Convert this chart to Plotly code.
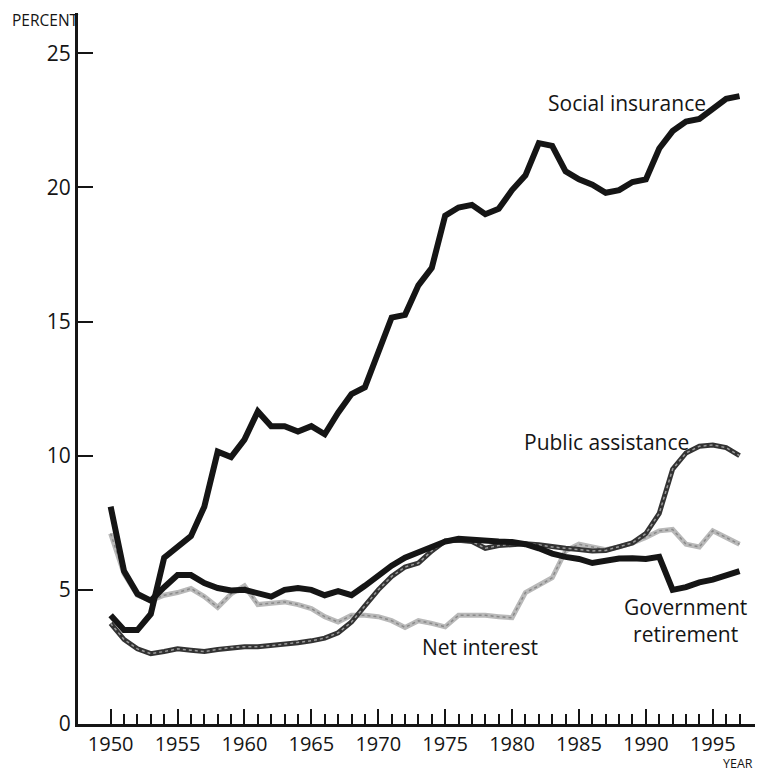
import plotly.graph_objects as go

# Fiscal years shown on the chart
years = list(range(1950, 1998))

# Percent of total outlays
social_insurance = [4.05, 3.5, 3.5, 4.1, 6.2, 6.6, 7.0, 8.1, 10.15, 9.95,
                    10.6, 11.65, 11.1, 11.1, 10.9, 11.1, 10.8, 11.6, 12.3, 12.55,
                    13.9, 15.15, 15.25, 16.35, 17.0, 18.95, 19.25, 19.35, 19.0, 19.2,
                    19.9, 20.45, 21.65, 21.55, 20.6, 20.3, 20.1, 19.8, 19.9, 20.2,
                    20.3, 21.45, 22.1, 22.45, 22.55, 22.95, 23.3, 23.4]

gov_retirement = [8.1, 5.7, 4.85, 4.6, 5.1, 5.55, 5.55, 5.25, 5.07, 4.98,
                  5.0, 4.9, 4.75, 5.0, 5.07, 5.0, 4.8, 4.95, 4.8, 5.15,
                  5.55, 5.9, 6.2, 6.4, 6.62, 6.8, 6.9, 6.85, 6.82, 6.8,
                  6.78, 6.7, 6.55, 6.35, 6.23, 6.15, 6.0, 6.08, 6.17, 6.18,
                  6.15, 6.23, 5.0, 5.1, 5.28, 5.38, 5.52, 5.7]

public_assistance = [3.75, 3.15, 2.8, 2.62, 2.7, 2.8, 2.75, 2.7, 2.78, 2.85,
                     2.88, 2.88, 2.92, 2.98, 3.03, 3.1, 3.2, 3.4, 3.8, 4.4,
                     5.0, 5.5, 5.85, 6.0, 6.45, 6.82, 6.85, 6.8, 6.55, 6.65,
                     6.7, 6.72, 6.68, 6.6, 6.55, 6.5, 6.45, 6.47, 6.6, 6.75,
                     7.1, 7.85, 9.5, 10.1, 10.35, 10.4, 10.3, 10.0]

net_interest = [7.1, 5.6, 4.8, 4.6, 4.8, 4.9, 5.05, 4.75, 4.35, 4.85,
                5.15, 4.45, 4.5, 4.55, 4.45, 4.3, 4.0, 3.8, 4.05, 4.05,
                4.0, 3.85, 3.6, 3.85, 3.75, 3.62, 4.05, 4.05, 4.05, 4.0,
                3.96, 4.9, 5.15, 5.45, 6.45, 6.7, 6.6, 6.5, 6.6, 6.75,
                6.95, 7.2, 7.25, 6.7, 6.6, 7.2, 6.95, 6.7]

major_ticks = list(range(1950, 1996, 5))
y_ticks = [0, 5, 10, 15, 20, 25]

FONT = "Open Sans"
INK = "#151515"


def add_line(fig, values, color, width, name):
    fig.add_trace(go.Scatter(x=years, y=values, mode="lines", name=name,
                             line=dict(color=color, width=width),
                             hoverinfo="skip"))


def add_texture(fig, values, color):
    # speckled look of the screened lines in the print
    fig.add_trace(go.Scatter(x=years, y=values, mode="lines", showlegend=False,
                             line=dict(color=color, width=1.5, dash="dot"),
                             hoverinfo="skip"))


def build_figure():
    fig = go.Figure()

    add_line(fig, net_interest, "#b9b9b9", 5, "Net interest")
    add_texture(fig, net_interest, "#8a8a8a")
    add_line(fig, public_assistance, "#333333", 5, "Public assistance")
    add_texture(fig, public_assistance, "#9a9a9a")
    add_line(fig, gov_retirement, INK, 6, "Government retirement")
    add_line(fig, social_insurance, INK, 6, "Social insurance")

    labels = [
        ("Social insurance", 1982.54, 23.15, "left"),
        ("Public assistance", 1980.72, 10.52, "left"),
        ("Net interest", 1973.12, 2.88, "left"),
        ("Government<br>retirement", 1992.96, 3.84, "center"),
    ]
    for text, x, y, anchor in labels:
        fig.add_annotation(x=x, y=y, text=text, showarrow=False,
                           xanchor=anchor, yanchor="middle",
                           font=dict(family=FONT, size=21, color=INK))

    fig.add_annotation(x=-0.1, y=0.99, xref="paper", yref="paper",
                       text="PERCENT", showarrow=False,
                       xanchor="left", yanchor="middle",
                       font=dict(family=FONT, size=15.5, color=INK))
    fig.add_annotation(x=0.992, y=-0.056, xref="paper", yref="paper",
                       text="YEAR", showarrow=False,
                       xanchor="right", yanchor="middle",
                       font=dict(family=FONT, size=12.5, color=INK))

    # the page body adds 8px, so the plot box is shifted back by that much
    fig.update_layout(
        width=763, height=771,
        margin=dict(l=70, r=11, t=5, b=55),
        paper_bgcolor="white", plot_bgcolor="white",
        showlegend=False,
        font=dict(family=FONT, color=INK),
    )
    fig.update_xaxes(
        range=[1947.56, 1998.53],
        showgrid=False, zeroline=False,
        showline=True, linecolor=INK, linewidth=3,
        tickmode="array", tickvals=major_ticks,
        ticks="inside", ticklen=15, tickwidth=1.5, tickcolor=INK,
        tickfont=dict(family=FONT, size=20, color=INK),
        minor=dict(tickmode="array", tickvals=years, ticks="inside",
                   ticklen=10, tickwidth=1.5, tickcolor=INK),
    )
    fig.update_yaxes(
        range=[0, 26.5],
        showgrid=False, zeroline=False,
        showline=True, linecolor=INK, linewidth=3,
        tickmode="array", tickvals=y_ticks,
        ticks="inside", ticklen=15, tickwidth=1.5, tickcolor=INK,
        tickfont=dict(family=FONT, size=21, color=INK),
    )
    return fig


def main():
    fig = build_figure()
    fig.write_html("out.html")


if __name__ == "__main__":
    main()
